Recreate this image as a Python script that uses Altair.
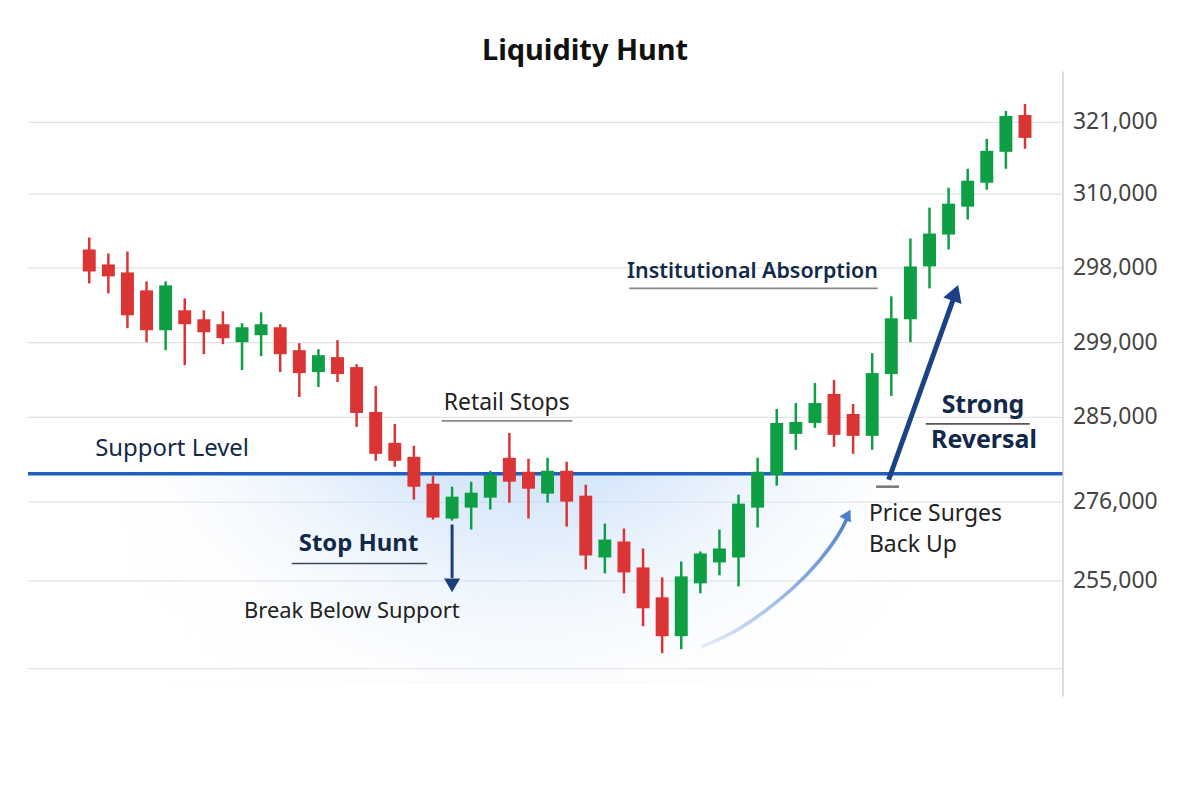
import altair as alt
import pandas as pd

# ---------------- data (prices in thousands, linear internal scale) ----------------
opens = [295.4, 292.4, 290.8, 287.2, 279.2, 283.2, 281.4, 280.4, 276.8, 278.2,
         279.8, 275.2, 270.8, 273.8, 271.8, 262.8, 256.6, 253.8, 248.4, 241.4,
         243.6, 245.6, 253.6, 250.8, 246.4, 251.0, 246.0, 233.6, 236.8, 231.6,
         225.6, 217.8, 228.4, 232.6, 233.6, 243.6, 250.2, 258.4, 260.6, 266.4,
         262.4, 258.0, 270.4, 281.4, 292.0, 298.4, 304.0, 308.8, 315.0, 322.4]
highs = [297.8, 294.6, 295.0, 289.0, 289.0, 285.6, 283.2, 283.0, 280.6, 282.8,
         280.4, 276.6, 275.4, 277.2, 272.4, 268.0, 260.4, 256.0, 250.0, 247.8,
         248.8, 251.0, 258.6, 253.4, 253.6, 252.8, 248.2, 240.4, 239.4, 235.4,
         229.6, 232.8, 234.8, 239.2, 246.2, 253.6, 263.4, 264.6, 268.6, 269.2,
         264.4, 274.6, 286.0, 297.6, 303.8, 307.8, 311.6, 317.6, 323.2, 324.6]
lows = [288.6, 286.6, 279.6, 276.8, 275.2, 272.2, 274.4, 276.4, 271.2, 274.0,
        270.8, 265.8, 267.8, 268.8, 259.8, 253.0, 251.8, 245.2, 241.2, 241.0,
        239.2, 243.2, 244.6, 241.4, 244.6, 239.8, 231.2, 230.4, 226.4, 219.8,
        214.4, 215.2, 226.4, 230.0, 227.8, 239.6, 248.0, 255.2, 259.6, 255.8,
        254.4, 255.2, 266.0, 276.8, 287.6, 295.4, 301.4, 307.4, 311.6, 315.6]
closes = [291.0, 290.0, 282.2, 279.2, 288.2, 280.4, 278.8, 277.6, 279.8, 280.4,
          274.4, 270.6, 274.2, 270.4, 262.6, 254.4, 253.0, 247.8, 241.6, 245.8,
          246.6, 250.2, 248.8, 247.4, 251.0, 244.8, 234.0, 237.2, 230.6, 223.4,
          217.8, 229.8, 234.4, 235.4, 244.4, 250.8, 260.6, 260.8, 264.6, 258.2,
          258.0, 270.6, 281.6, 292.0, 298.6, 304.6, 309.2, 315.2, 322.2, 317.8]
candle_index = list(range(len(opens)))

tick_values = [321.0, 306.6, 291.8, 276.8, 261.8, 244.8, 229.0, 211.4]
tick_labels = ["321,000", "310,000", "298,000", "299,000", "285,000", "276,000", "255,000", ""]
support_level = 250.4

GREEN = "#0e9f45"
RED = "#db3434"
NAVY = "#13294b"
DARK = "#222222"
FONT = "Noto Sans"

df = pd.DataFrame({"i": candle_index, "o": opens, "h": highs, "l": lows, "c": closes})
df["dir"] = ["up" if c >= o else "down" for o, c in zip(opens, closes)]

X = alt.Scale(domain=[-2.95, 50.7], nice=False, zero=False)
Y = alt.Scale(domain=[205.8, 331.2], nice=False, zero=False)

label_expr = ("[" + ",".join(f"'{s}'" for s in tick_labels) + "][indexof(["
              + ",".join(str(v) for v in tick_values) + "], datum.value)]")

y_axis = alt.Axis(orient="right", values=tick_values, labelExpr=label_expr, title=None,
                  ticks=False, domain=True, domainColor="#cfcfcf", domainWidth=1.5,
                  grid=True, gridColor="#e2e2e2", gridWidth=1.2,
                  labelFont=FONT, labelFontSize=23, labelColor="#444444", labelPadding=10)


def xq(field):
    return alt.X(field, scale=X, axis=None)


def yq(field):
    return alt.Y(field, scale=Y, axis=y_axis)


color_enc = alt.Color("dir:N", scale=alt.Scale(domain=["up", "down"], range=[GREEN, RED]), legend=None)

# ---------------- glow below support ----------------
glow_df = pd.DataFrame({"x0": [2.0], "x1": [43.5], "y0": [support_level], "y1": [208.5]})
glow = alt.Chart(glow_df).mark_rect(
    fill=alt.Gradient(gradient="radial",
                      stops=[alt.GradientStop(color="rgba(172,203,243,0.85)", offset=0),
                             alt.GradientStop(color="rgba(192,218,248,0.62)", offset=0.45),
                             alt.GradientStop(color="rgba(255,255,255,0)", offset=1)],
                      x1=0.5, y1=0.12, x2=0.5, y2=0.12, r1=0, r2=0.62)
).encode(x=xq("x0:Q"), x2="x1", y=yq("y0:Q"), y2="y1")

# ---------------- candles ----------------
wicks = alt.Chart(df).mark_rule(strokeWidth=2.5).encode(
    x=xq("i:Q"), y=yq("l:Q"), y2="h:Q", color=color_enc)
bodies = alt.Chart(df).mark_bar(size=13, orient="vertical").encode(
    x=xq("i:Q"), y=yq("o:Q"), y2="c:Q", color=color_enc)

# ---------------- support line ----------------
support = alt.Chart(pd.DataFrame({"y": [support_level]})).mark_rule(
    color="#1f5fbf", strokeWidth=3.5).encode(y=yq("y:Q"))

# ---------------- curved arrow ----------------
curve_x = [32.04, 33.85, 35.40, 36.95, 38.24, 39.28, 39.70]
curve_y = [215.6, 218.6, 222.8, 227.6, 232.8, 238.2, 241.6]
curve = alt.Chart(pd.DataFrame({"x": curve_x, "y": curve_y})).mark_line(
    strokeWidth=3.5, interpolate="basis",
    stroke=alt.Gradient(gradient="linear",
                        stops=[alt.GradientStop(color="#e6eef9", offset=0),
                               alt.GradientStop(color="#4a7fd0", offset=1)],
                        x1=0, y1=1, x2=1, y2=0)
).encode(x=xq("x:Q"), y=yq("y:Q"))
curve_head = alt.Chart(pd.DataFrame({"x": [39.72], "y": [242.2]})).mark_point(
    shape="triangle-up", filled=True, size=170, angle=28, color="#4a7fd0", opacity=1
).encode(x=xq("x:Q"), y=yq("y:Q"))

# ---------------- big reversal arrow ----------------
big_df = pd.DataFrame({"x": [41.86, 45.30], "y": [249.2, 286.0]})
big_line = alt.Chart(big_df).mark_line(color="#1b4287", strokeWidth=5).encode(
    x=xq("x:Q"), y=yq("y:Q"))
big_head = alt.Chart(pd.DataFrame({"x": [45.35], "y": [286.7]})).mark_point(
    shape="triangle-up", filled=True, size=380, angle=20, color="#1b4287", opacity=1
).encode(x=xq("x:Q"), y=yq("y:Q"))
dash = alt.Chart(pd.DataFrame({"x": [41.2], "x2": [42.4], "y": [247.8]})).mark_rule(
    color="#777777", strokeWidth=2.5).encode(x=xq("x:Q"), x2="x2", y=yq("y:Q"))

# ---------------- down arrow ----------------
down_df = pd.DataFrame({"x": [19.0, 19.0], "y": [240.2, 229.5]})
down_line = alt.Chart(down_df).mark_line(color="#1b3f7e", strokeWidth=3).encode(
    x=xq("x:Q"), y=yq("y:Q"))
down_head = alt.Chart(pd.DataFrame({"x": [19.0], "y": [228.0]})).mark_point(
    shape="triangle-down", filled=True, size=260, color="#1b3f7e", opacity=1
).encode(x=xq("x:Q"), y=yq("y:Q"))

# ---------------- underline rules ----------------
under_df = pd.DataFrame({
    "x": [10.6, 18.45, 28.27, 43.8],
    "x2": [17.7, 25.3, 41.29, 49.25],
    "y": [232.4, 261.0, 287.6, 260.4],
    "col": ["#3a4a66", "#8a8a8a", "#8a8a8a", "#555555"],
})
underlines = alt.Chart(under_df).mark_rule(strokeWidth=1.6).encode(
    x=xq("x:Q"), x2="x2", y=yq("y:Q"), color=alt.Color("col:N", scale=None))


# ---------------- texts ----------------
def text_layer(xs, ys, texts, size, weight, color, align):
    d = pd.DataFrame({"x": xs, "y": ys, "t": texts})
    return alt.Chart(d).mark_text(font=FONT, fontSize=size, fontWeight=weight, color=color,
                                  align=align, baseline="middle").encode(
        x=xq("x:Q"), y=yq("y:Q"), text="t:N")


t_support = text_layer([0.31], [255.4], ["Support Level"], 24, "normal", NAVY, "left")
t_stop = text_layer([14.1], [236.2], ["Stop Hunt"], 24, "bold", NAVY, "center")
t_break = text_layer([13.75], [222.8], ["Break Below Support"], 22, "normal", DARK, "center")
t_retail = text_layer([21.86], [264.6], ["Retail Stops"], 23, "normal", DARK, "center")
t_inst = text_layer([34.73], [290.8], ["Institutional Absorption"], 21.5, 600, NAVY, "center")
t_strong = text_layer([46.8, 46.85], [264.2, 257.2], ["Strong", "Reversal"], 25, "bold", NAVY, "center")
t_price = text_layer([40.83, 40.83], [242.4, 236.0], ["Price Surges", "Back Up"], 23, "normal", DARK, "left")

chart = alt.layer(
    glow, support, wicks, bodies, curve, curve_head, big_line, big_head, dash,
    down_line, down_head, underlines,
    t_support, t_stop, t_break, t_retail, t_inst, t_strong, t_price
).properties(
    width=1038, height=627,
    title=alt.TitleParams("Liquidity Hunt", font=FONT, fontSize=29, fontWeight="bold",
                          color="#111111", anchor="middle", dx=40, offset=5),
    autosize=alt.AutoSizeParams(type="none"),
    padding={"left": 20, "top": 62, "right": 130, "bottom": 90},
).configure(background="white").configure_view(stroke=None)

chart.save("out.html", embed_options={"renderer": "svg", "actions": False})
